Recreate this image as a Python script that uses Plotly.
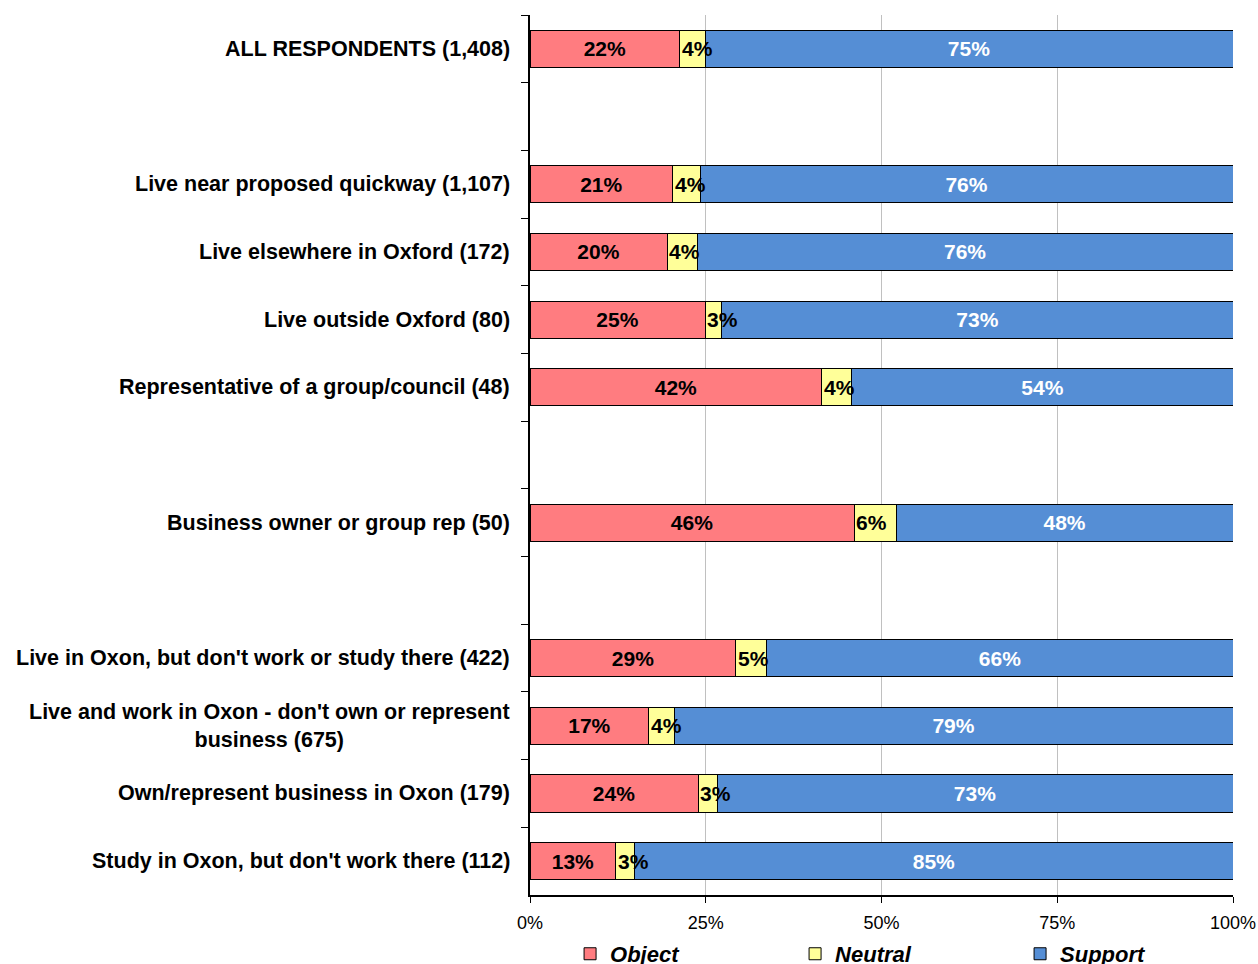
import plotly.graph_objects as go

# Rows top to bottom; None marks an empty slot between groups
categories = [
    "ALL RESPONDENTS (1,408)",
    None,
    "Live near proposed quickway (1,107)",
    "Live elsewhere in Oxford (172)",
    "Live outside Oxford (80)",
    "Representative of a group/council (48)",
    None,
    "Business owner or group rep (50)",
    None,
    "Live in Oxon, but don't work or study there (422)",
    "Live and work in Oxon - don't own or represent<br>business (675)",
    "Own/represent business in Oxon (179)",
    "Study in Oxon, but don't work there (112)",
]

object_vals = [21.3, None, 20.3, 19.5, 24.9, 41.5, None, 46.1, None, 29.3, 16.9, 23.9, 12.2]
neutral_vals = [3.6, None, 3.9, 4.3, 2.4, 4.3, None, 6.0, None, 4.4, 3.6, 2.7, 2.7]
support_vals = [75.1, None, 75.8, 76.2, 72.7, 54.2, None, 47.9, None, 66.3, 79.5, 73.4, 85.1]

object_labels = ["22%", "", "21%", "20%", "25%", "42%", "", "46%", "", "29%", "17%", "24%", "13%"]
neutral_labels = ["4%", "", "4%", "4%", "3%", "4%", "", "6%", "", "5%", "4%", "3%", "3%"]
support_labels = ["75%", "", "76%", "76%", "73%", "54%", "", "48%", "", "66%", "79%", "73%", "85%"]

x_ticks = [0, 25, 50, 75, 100]

y_keys = [c if c is not None else f"gap{i}" for i, c in enumerate(categories)]

RED = "#FF7C80"
YELLOW = "#FFFF99"
BLUE = "#558ED5"
FONT = "Liberation Sans, Arial, sans-serif"

fig = go.Figure()
series = [
    ("Object", object_vals, object_labels, RED, "black"),
    ("Neutral", neutral_vals, None, YELLOW, "black"),
    ("Support", support_vals, support_labels, BLUE, "white"),
]
for name, vals, labels, color, tcolor in series:
    fig.add_trace(go.Bar(
        name=name,
        y=y_keys,
        x=vals,
        orientation="h",
        marker=dict(color=color, line=dict(color="black", width=1)),
        text=labels,
        textposition="inside" if labels else "none",
        insidetextanchor="middle",
        textangle=0,
        constraintext="none",
        textfont=dict(family=FONT, size=21, color=tcolor, weight="bold"),
        cliponaxis=False,
        hoverinfo="skip",
    ))

# Neutral labels drawn on top, starting at the left edge of the yellow segment
for key, start, lab in zip(y_keys, object_vals, neutral_labels):
    if start is None or not lab:
        continue
    fig.add_annotation(
        x=start, xref="x", y=key, yref="y",
        text=lab, showarrow=False,
        xanchor="left", yanchor="middle",
        font=dict(family=FONT, size=21, color="black", weight="bold"),
    )

for key, cat in zip(y_keys, categories):
    if cat is None:
        continue
    fig.add_annotation(
        x=0, xref="paper", y=key, yref="y",
        text=cat, showarrow=False,
        xanchor="right", xshift=-18, align="center",
        font=dict(family=FONT, size=21.5, color="black", weight="bold"),
    )

fig.update_layout(
    width=1258, height=964,
    margin=dict(l=530, r=25, t=15, b=69, autoexpand=False),
    barmode="stack",
    bargap=0.45,
    paper_bgcolor="white",
    plot_bgcolor="white",
    uniformtext=dict(minsize=21, mode="show"),
    showlegend=True,
    legend=dict(
        orientation="h",
        traceorder="normal",
        x=0.057, xanchor="left",
        y=-0.067, yanchor="middle",
        entrywidth=180, entrywidthmode="pixels",
        bgcolor="rgba(0,0,0,0)",
        font=dict(family=FONT, size=22, color="black", weight="bold", style="italic"),
        itemclick=False,
    ),
    xaxis=dict(
        range=[0, 100],
        tickvals=x_ticks,
        ticktext=[f"{v}%" for v in x_ticks],
        showgrid=True, gridcolor="#C0C0C0", gridwidth=1,
        zeroline=False,
        showline=True, linecolor="black", linewidth=1.5,
        ticks="outside", ticklen=6, tickcolor="black",
        ticklabelstandoff=5,
        tickfont=dict(family=FONT, size=18, color="black"),
        fixedrange=True,
    ),
    yaxis=dict(
        type="category",
        categoryorder="array",
        categoryarray=y_keys,
        range=[len(y_keys) - 0.5, -0.5],
        tickson="boundaries",
        ticks="outside", ticklen=7, tickcolor="black",
        showticklabels=False,
        showgrid=False,
        showline=True, linecolor="black", linewidth=2,
        fixedrange=True,
    ),
)

fig.write_html(
    "out.html",
    config={"displayModeBar": False},
    post_script="document.body.style.margin='0';document.body.style.overflow='hidden';",
)
